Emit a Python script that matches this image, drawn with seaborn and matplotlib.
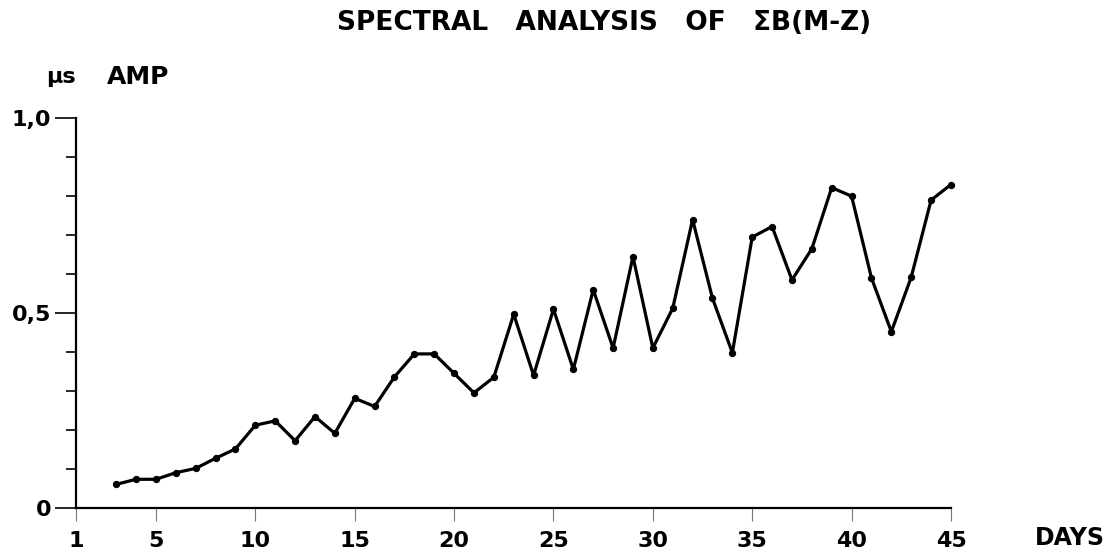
import matplotlib
matplotlib.use("Agg")
import matplotlib.pyplot as plt
import seaborn as sns
import pandas as pd
from matplotlib.ticker import MultipleLocator

days = list(range(3, 46))
amp = [0.060, 0.073, 0.073, 0.090, 0.101, 0.127, 0.151, 0.212, 0.223, 0.172,
       0.234, 0.191, 0.281, 0.260, 0.336, 0.395, 0.395, 0.345, 0.295, 0.335,
       0.497, 0.340, 0.510, 0.355, 0.560, 0.410, 0.645, 0.410, 0.512, 0.740,
       0.538, 0.398, 0.695, 0.722, 0.585, 0.665, 0.822, 0.800, 0.590, 0.452,
       0.592, 0.790, 0.830]
xticks = [1, 5, 10, 15, 20, 25, 30, 35, 40, 45]
xticklabels = ["1", "5", "10", "15", "20", "25", "30", "35", "40", "45"]
yticks = [0, 0.5, 1.0]
yticklabels = ["0", "0,5", "1,0"]

sns.set_style("white")
plt.rcParams['font.family'] = ['DejaVu Sans']
plt.rcParams['font.weight'] = 'bold'
plt.rcParams['text.color'] = 'black'
plt.rcParams['xtick.color'] = 'black'
plt.rcParams['ytick.color'] = 'black'

df = pd.DataFrame({"day": days, "amp": amp})

fig = plt.figure(figsize=(11.18, 5.55), dpi=100)
ax = fig.add_axes([0.0684, 0.0852, 0.7822, 0.7016])

sns.lineplot(data=df, x="day", y="amp", ax=ax, color="black", linewidth=2.3,
             marker="o", markersize=4.5, markeredgecolor="black", clip_on=False)

ax.set_xlim(1, 45)
ax.set_ylim(0, 1.0)
ax.set_xlabel("")
ax.set_ylabel("")
for s in ["top", "right"]:
    ax.spines[s].set_visible(False)
ax.spines["left"].set_linewidth(1.6)
ax.spines["bottom"].set_linewidth(1.6)
ax.spines["left"].set_color("black")
ax.spines["bottom"].set_color("black")

ax.set_xticks(xticks)
ax.set_xticklabels(xticklabels, fontsize=16, fontweight="bold", color="black")
ax.set_yticks(yticks)
ax.set_yticklabels(yticklabels, fontsize=16, fontweight="bold", color="black")
ax.yaxis.set_minor_locator(MultipleLocator(0.1))
ax.tick_params(axis="y", which="major", direction="out", length=15, width=1.2,
               pad=3, left=True)
ax.tick_params(axis="y", which="minor", direction="out", length=7, width=1.2,
               left=True)
ax.tick_params(axis="x", which="major", direction="out", length=9, width=0.8,
               color="#777777", pad=8, bottom=True)

fig.text(0.540, 0.958, "SPECTRAL   ANALYSIS   OF   \u03a3B(M-Z)", ha="center",
         va="center", fontsize=19, fontweight="bold", color="black")
fig.text(0.041, 0.861, "\u03bcs", ha="left", va="center", fontsize=16,
         fontweight="bold", color="black")
fig.text(0.0957, 0.861, "AMP", ha="left", va="center", fontsize=18,
         fontweight="bold", color="black")
fig.text(0.957, 0.0306, "DAYS", ha="center", va="center", fontsize=17,
         fontweight="bold", color="black")

fig.savefig("out.png", dpi=100, facecolor="white")
